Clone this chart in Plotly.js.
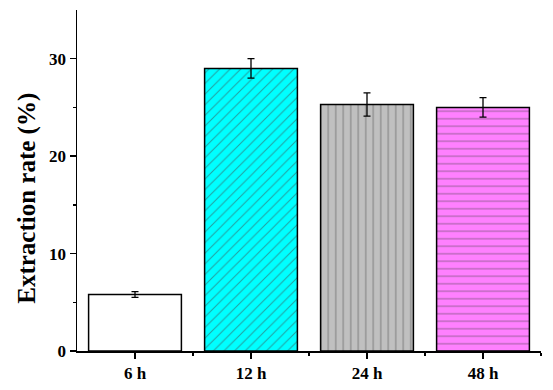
<!DOCTYPE html>
<html><head><meta charset="utf-8">
<script src="https://cdn.plot.ly/plotly-3.0.1.min.js"></script>
<style>html,body{margin:0;padding:0;background:#fff}#c{width:553px;height:390px}</style>
</head><body><div id="c"></div>
<script>
const categories = ["6 h", "12 h", "24 h", "48 h"];
const values = [5.8, 29.0, 25.3, 25.0];
const errors = [0.3, 1.0, 1.2, 1.0];
const fills = ["#ffffff", "#00ffff", "#c0c0c0", "#ff80ff"];
const patterns = ["", "/", "|", "-"];
const yTitle = "Extraction rate (%)";
const xpos = categories.map((_, i) => i);

const trace = {
  type: "bar",
  x: xpos,
  y: values,
  width: 0.8,
  marker: {
    color: fills,
    line: {color: "#000", width: 1.5},
    pattern: {shape: patterns, bgcolor: fills, fgcolor: "#3a3a3a", size: 7.5, solidity: 0.14, fillmode: "overlay"}
  },
  error_y: {type: "data", array: errors, visible: true, color: "#000", thickness: 1.3, width: 3.5},
  hoverinfo: "none"
};

const fontF = "Liberation Serif, Times New Roman, serif";
const layout = {
  width: 553, height: 390,
  margin: {l: 77, r: 12, t: 10, b: 39},
  paper_bgcolor: "#fff", plot_bgcolor: "#fff",
  showlegend: false,
  xaxis: {
    range: [-0.5, 3.5],
    tickmode: "array", tickvals: xpos, ticktext: categories,
    ticks: "outside", ticklen: 6, tickwidth: 1.3, tickcolor: "#000",
    minor: {tickmode: "array", tickvals: [0.5, 1.5, 2.5, 3.5], ticks: "outside", ticklen: 3, tickwidth: 1.3, tickcolor: "#000"},
    showline: true, linecolor: "#000", linewidth: 1.5,
    showgrid: false, zeroline: false,
    tickfont: {family: fontF, size: 17, color: "#000", weight: "bold"}
  },
  yaxis: {
    range: [0, 35],
    tickmode: "array", tickvals: [0, 10, 20, 30],
    ticks: "outside", ticklen: 6, tickwidth: 1.3, tickcolor: "#000",
    minor: {tickmode: "array", tickvals: [5, 15, 25], ticks: "outside", ticklen: 3, tickwidth: 1.3, tickcolor: "#000"},
    showline: true, linecolor: "#000", linewidth: 1.5,
    showgrid: false, zeroline: false,
    tickfont: {family: fontF, size: 17, color: "#000", weight: "bold"}
  },
  annotations: [{
    text: yTitle, textangle: -90, showarrow: false,
    xref: "paper", yref: "paper", x: -0.108, y: 0.449,
    xanchor: "center", yanchor: "middle",
    font: {family: fontF, size: 25, color: "#000", weight: "bold"}
  }]
};
Plotly.newPlot("c", [trace], layout, {staticPlot: true, displayModeBar: false});
</script></body></html>
